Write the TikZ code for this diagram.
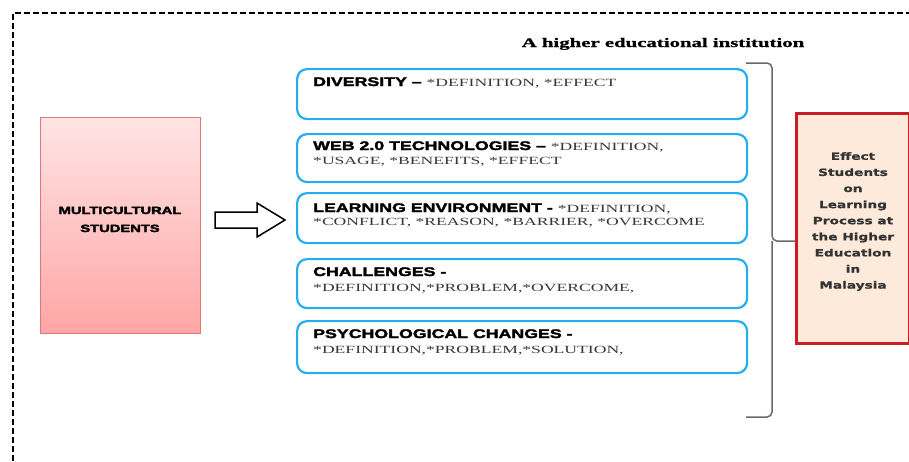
\documentclass[tikz,border=0pt]{standalone}
\usepackage{fontspec}
\newfontfamily\tfont[FakeStretch=1.42,FakeBold=2.5]{Liberation Sans Bold}
\newfontfamily\sfontx[FakeStretch=1.6]{Liberation Serif}
\newfontfamily\hfont[FakeStretch=1.6,FakeBold=0.8]{Liberation Serif Bold}
\newfontfamily\mfont[FakeStretch=1.4,FakeBold=3.5]{Liberation Sans Bold}
\newfontfamily\rfont[FakeStretch=1.37,FakeBold=1]{DejaVu Sans Bold}
\definecolor{bluebd}{RGB}{35,175,235}
\definecolor{pinkbd}{RGB}{220,120,120}
\definecolor{pinktop}{RGB}{255,228,228}
\definecolor{pinkbot}{RGB}{255,165,165}
\definecolor{redbd}{RGB}{200,30,35}
\definecolor{peach}{RGB}{253,234,218}
\definecolor{brgray}{RGB}{105,105,105}
\definecolor{sgray}{RGB}{55,55,55}
\tikzset{
  bbox/.style={draw=bluebd, line width=2.2pt, rounded corners=10pt, minimum width=450pt, anchor=north west, inner sep=0pt},
  ttl/.style={anchor=base west, inner sep=0pt, font=\tfont\fontsize{12.5}{14}\selectfont},
  sub/.style={anchor=base west, inner sep=0pt, text=sgray, font=\sfontx\fontsize{11}{13}\selectfont}
}
\newcommand{\subpart}[1]{{\sfontx\fontsize{11}{13}\selectfont\color{sgray}#1}}
\begin{document}
\begin{tikzpicture}[x=1pt,y=-1pt]
\useasboundingbox (0,0) rectangle (909,461);
% dashed frame
\draw[line width=1.5pt, dash pattern=on 6pt off 3pt] (13,470) -- (13,13) -- (915,13);
% title
\node[anchor=base, inner sep=0pt, font=\hfont\fontsize{13}{15}\selectfont] (title) at (663,47) {A higher educational institution};
% left box
\node[draw=pinkbd, line width=1pt, top color=pinktop, bottom color=pinkbot, minimum width=160pt, minimum height=216pt, anchor=north west, inner sep=0pt] (ms) at (40,117) {};
\node[anchor=base, inner sep=0pt, font=\mfont\fontsize{10.5}{12}\selectfont] (ms1) at (120,214) {MULTICULTURAL};
\node[anchor=base, inner sep=0pt, font=\mfont\fontsize{10.5}{12}\selectfont] (ms2) at (120,232) {STUDENTS};
% block arrow
\draw[line width=1.5pt, line join=miter] (215,212) -- (257,212) -- (257,203) -- (285,220) -- (257,237) -- (257,228) -- (215,228) -- cycle;
% blue boxes
\node[bbox, minimum height=50pt] (b1) at (296,68) {};
\node[bbox, minimum height=48pt] (b2) at (296,133) {};
\node[bbox, minimum height=50pt] (b3) at (296,192) {};
\node[bbox, minimum height=49pt] (b4) at (296,258) {};
\node[bbox, minimum height=52pt] (b5) at (296,320) {};
% box texts
\node[ttl] (t1) at (313,86) {DIVERSITY – \subpart{*DEFINITION, *EFFECT}};
\node[ttl] (t2a) at (313,150) {WEB 2.0 TECHNOLOGIES – \subpart{*DEFINITION,}};
\node[sub] (t2b) at (313,164) {*USAGE, *BENEFITS, *EFFECT};
\node[ttl] (t3a) at (313,212) {LEARNING ENVIRONMENT - \subpart{*DEFINITION,}};
\node[sub] (t3b) at (313,225) {*CONFLICT, *REASON, *BARRIER, *OVERCOME};
\node[ttl] (t4a) at (313,276) {CHALLENGES -};
\node[sub] (t4b) at (313,291) {*DEFINITION,*PROBLEM,*OVERCOME,};
\node[ttl] (t5a) at (313,338) {PSYCHOLOGICAL CHANGES -};
\node[sub] (t5b) at (313,353) {*DEFINITION,*PROBLEM,*SOLUTION,};
% right box
\node[draw=redbd, fill=peach, line width=2.5pt, minimum width=113pt, minimum height=230pt, anchor=north west, inner sep=0pt] (rb) at (795,112) {};
\node[inner sep=0pt, align=center, text=black!80, font=\rfont\fontsize{10}{16.1}\selectfont] (rbt) at (853,221.5) {Effect\\Students\\on\\Learning\\Process at\\the Higher\\Education\\in\\Malaysia};
% bracket
\coordinate (brtop) at (746,63);
\coordinate (brbot) at (746,417);
\coordinate (brtip) at (795,241);
\draw[brgray, line width=1.5pt, rounded corners=5pt] (brtop) -- (772,63) -- (772,241) -- (brtip);
\draw[brgray, line width=1.5pt, rounded corners=5pt] (772,241) -- (772,417) -- (brbot);
\end{tikzpicture}
\end{document}
